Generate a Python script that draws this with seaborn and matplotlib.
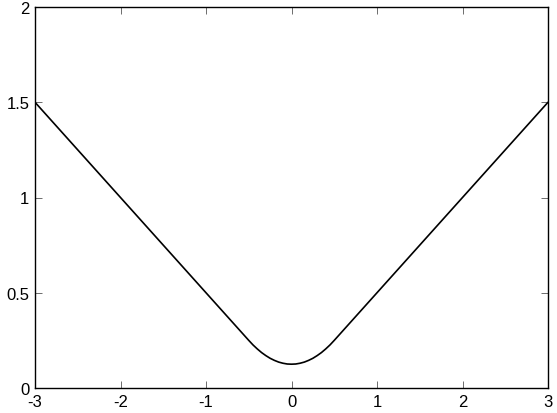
import matplotlib
matplotlib.use("Agg")
import matplotlib.pyplot as plt
import seaborn as sns
import pandas as pd

x_vals = [-3.0, -2.5, -2.0, -1.5, -1.0, -0.5, -0.45, -0.4, -0.35, -0.3, -0.25, -0.2, -0.15, -0.1, -0.05, 0.0,
          0.05, 0.1, 0.15, 0.2, 0.25, 0.3, 0.35, 0.4, 0.45, 0.5, 1.0, 1.5, 2.0, 2.5, 3.0]
y_vals = [1.5, 1.25, 1.0, 0.75, 0.5, 0.25, 0.226, 0.205, 0.186, 0.17, 0.156, 0.145, 0.136, 0.13, 0.126, 0.125,
          0.126, 0.13, 0.136, 0.145, 0.156, 0.17, 0.186, 0.205, 0.226, 0.25, 0.5, 0.75, 1.0, 1.25, 1.5]
x_ticks = [-3, -2, -1, 0, 1, 2, 3]
y_ticks = [0, 0.5, 1, 1.5, 2]
y_tick_labels = ["0", "0.5", "1", "1.5", "2"]

sns.set_theme(style="white")
plt.rcParams["font.family"] = ["Liberation Sans", "DejaVu Sans"]

fig = plt.figure(figsize=(5.57, 4.14), dpi=100)
ax = fig.add_axes([35/557, 25/414, 513/557, 381/414])

df = pd.DataFrame({"x": x_vals, "y": y_vals})
sns.lineplot(data=df, x="x", y="y", ax=ax, color="black", linewidth=1.2, sort=False)

ax.set_xlim(-3, 3)
ax.set_ylim(0, 2)
ax.set_xticks(x_ticks)
ax.set_xticklabels([str(t) for t in x_ticks])
ax.set_yticks(y_ticks)
ax.set_yticklabels(y_tick_labels)
ax.set_xlabel("")
ax.set_ylabel("")
for s in ax.spines.values():
    s.set_color("black")
    s.set_linewidth(1.0)
ax.tick_params(direction="in", length=5, width=0.6, color="#555555",
               top=True, right=True, bottom=True, left=True,
               labelsize=12, labelcolor="black", pad=4)
fig.savefig("out.png", dpi=100)
